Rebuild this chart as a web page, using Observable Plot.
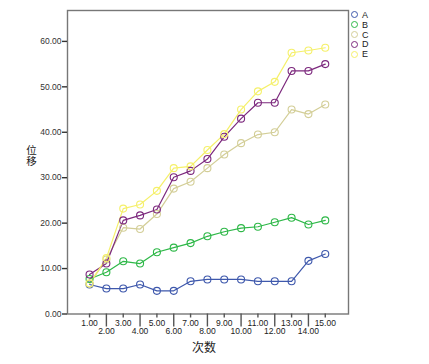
<!DOCTYPE html>
<html>
<head>
<meta charset="utf-8">
<script src="https://cdn.jsdelivr.net/npm/d3@7"></script>
<script src="https://cdn.jsdelivr.net/npm/@observablehq/plot@0.6"></script>
<style>
  html, body { margin: 0; padding: 0; background: #fff; }
  #wrap { position: relative; width: 429px; height: 364px; }
  #legend { position: absolute; left: 351px; top: 10px; font: 9px "Liberation Sans", Arial, sans-serif; color: #222; }
  #legend div { display: flex; align-items: center; height: 9.8px; }
  #legend span.sw { display: inline-block; width: 7px; height: 7px; border-radius: 50%; border: 1.2px solid; margin-right: 4px; box-sizing: border-box; }
  .ytitle text { writing-mode: vertical-rl; text-orientation: upright; }
</style>
</head>
<body>
<div id="wrap"><div id="legend"></div></div>
<script>
const times = [1,2,3,4,5,6,7,8,9,10,11,12,13,14,15];
const seriesNames = ["A","B","C","D","E"];
const seriesColors = ["#3E58AC","#2EB848","#D3CE97","#7C287D","#F5F06A"];
const A = [6.5,5.6,5.6,6.5,5.1,5.1,7.2,7.6,7.6,7.6,7.2,7.2,7.2,11.7,13.2];
const B = [7.7,9.2,11.6,11.1,13.6,14.6,15.6,17.1,18.1,18.9,19.2,20.2,21.2,19.7,20.6];
const C = [6.7,12.0,19.0,18.7,22.0,27.6,29.1,32.1,35.1,37.6,39.5,40.0,45.0,44.0,46.1];
const D = [8.7,11.1,20.6,21.7,23.0,30.1,31.5,34.1,39.0,43.0,46.5,46.5,53.5,53.5,55.0];
const E = [6.7,12.3,23.2,24.1,27.1,32.1,32.5,36.1,39.6,45.0,49.0,51.1,57.5,58.0,58.6];
const yTicks = [0,10,20,30,40,50,60];
const xTicksOdd = [1,3,5,7,9,11,13,15];
const xTicksEven = [2,4,6,8,10,12,14];
const xTitle = "次数";
const yTitle = "位移";

const values = [A,B,C,D,E];
const data = [];
seriesNames.forEach((s,i) => times.forEach((t,j) => data.push({series: s, time: t, value: values[i][j]})));

const fmt = d => d.toFixed(2);
const font = "Liberation Sans, Arial, sans-serif";

const chart = Plot.plot({
  width: 429,
  height: 364,
  marginLeft: 67,
  marginRight: 81,
  marginTop: 10,
  marginBottom: 50.5,
  style: {fontFamily: font, fontSize: "8.5px", color: "#333", background: "#fff"},
  x: {domain: [-0.31, 16.38]},
  y: {domain: [0, 66.8]},
  color: {domain: seriesNames, range: seriesColors},
  marks: [
    Plot.frame({stroke: "#777", strokeWidth: 1.4}),
    Plot.axisY({ticks: yTicks, tickSize: 5, tickPadding: 1, tickFormat: fmt, label: null, stroke: "#333", strokeWidth: 1.4, fill: "#333"}),
    Plot.axisX({ticks: xTicksOdd, tickSize: 4, tickPadding: 2, tickFormat: fmt, label: null, stroke: "#555", strokeWidth: 1.4, fill: "#222"}),
    Plot.axisX({ticks: xTicksEven, tickSize: 13, tickPadding: 1, tickFormat: fmt, label: null, stroke: "#555", strokeWidth: 1.4, fill: "#222"}),
    Plot.line(data, {x: "time", y: "value", z: "series", stroke: "series", strokeWidth: 1.2}),
    Plot.dot(data, {x: "time", y: "value", stroke: "series", r: 3.5, strokeWidth: 1.1, fill: "none"}),
    Plot.text([xTitle], {frameAnchor: "bottom", dy: 38, dx: -4, fontSize: 12, fill: "#222", fontFamily: "Noto Sans CJK SC"}),
    Plot.text([yTitle], {className: "ytitle", frameAnchor: "left", textAnchor: "middle", lineAnchor: "middle", dx: -36, dy: -10, fontSize: 10.5, fill: "#222", fontFamily: "Noto Sans CJK SC"})
  ]
});
document.getElementById("wrap").prepend(chart);

const legend = document.getElementById("legend");
seriesNames.forEach((s,i) => {
  const row = document.createElement("div");
  const sw = document.createElement("span");
  sw.className = "sw";
  sw.style.borderColor = seriesColors[i];
  row.appendChild(sw);
  row.appendChild(document.createTextNode(s));
  legend.appendChild(row);
});
</script>
</body>
</html>
